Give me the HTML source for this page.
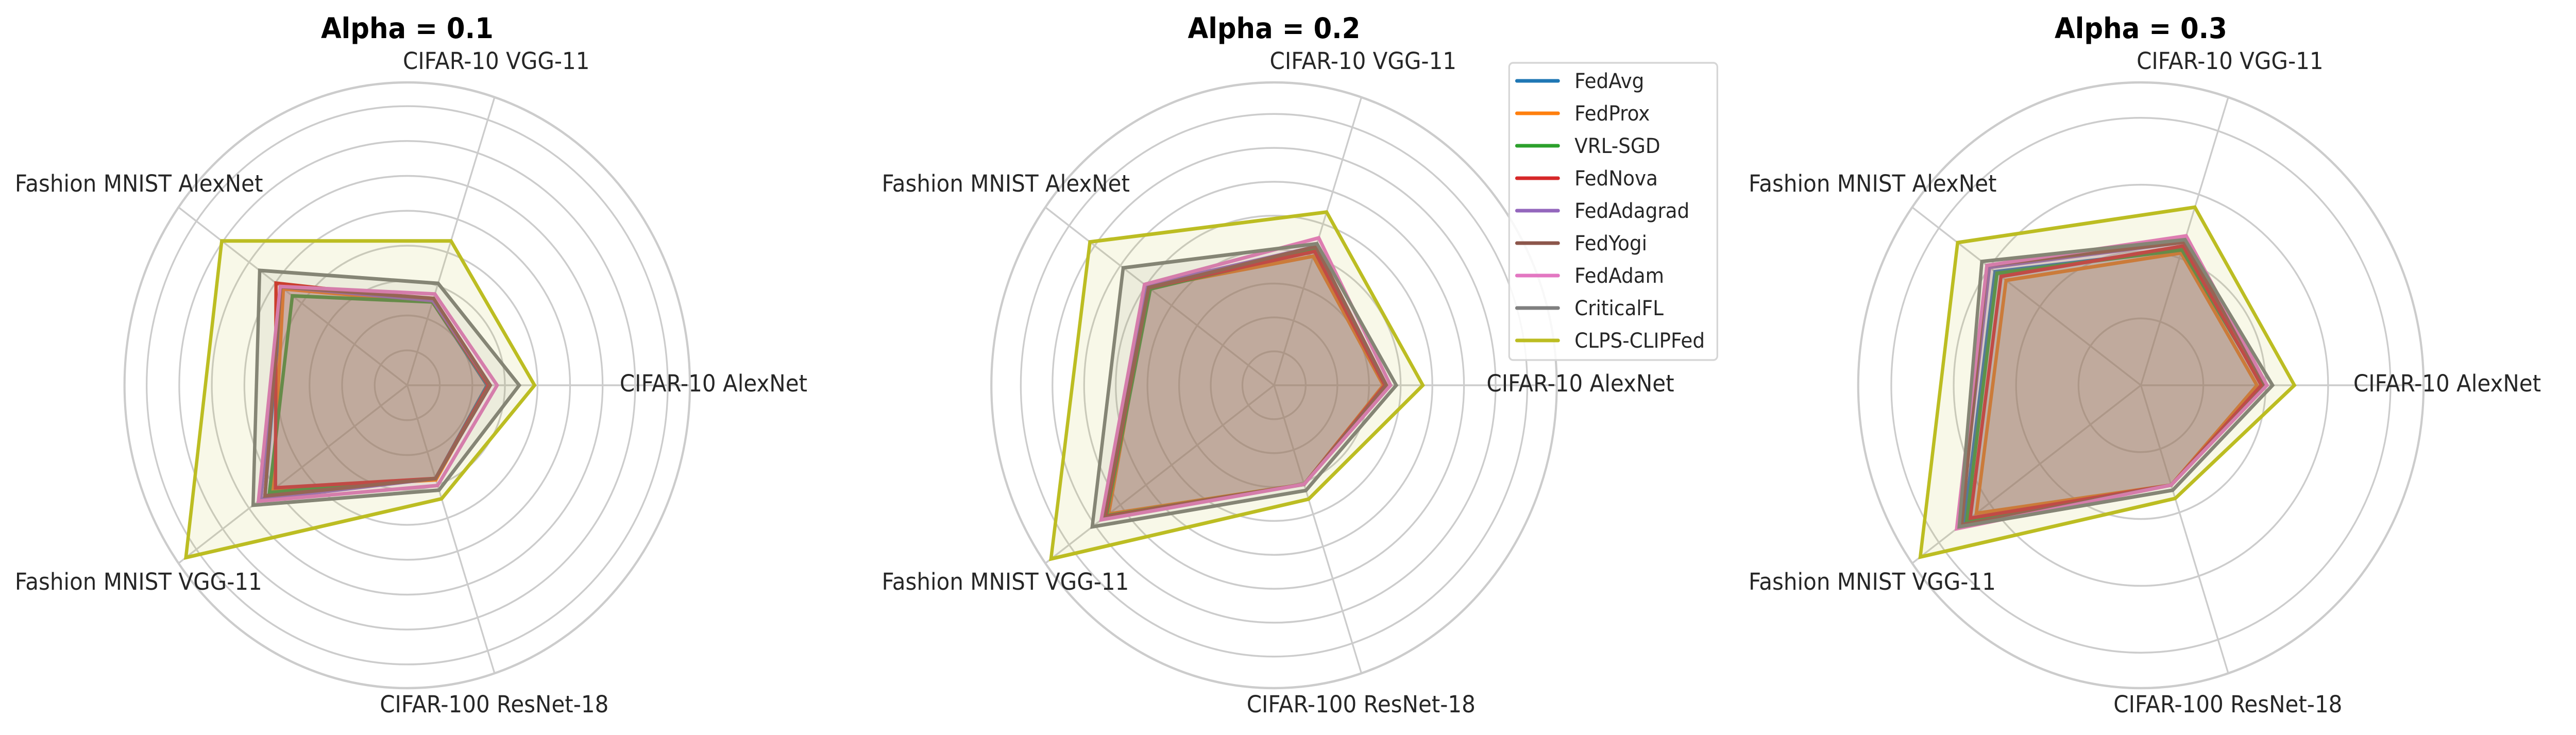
<!DOCTYPE html>
<html><head><meta charset="utf-8"><style>
html,body{margin:0;padding:0;background:#fff;width:100%;height:100%;overflow:hidden;}
svg{display:block;width:100vw;height:100vh;font-family:"DejaVu Sans","Liberation Sans",sans-serif;}
</style></head><body>
<svg id="chart" viewBox="0 0 5358 1427" preserveAspectRatio="none" xmlns="http://www.w3.org/2000/svg"></svg>
<script>
const categories = ["CIFAR-10 AlexNet","CIFAR-10 VGG-11","Fashion MNIST AlexNet","Fashion MNIST VGG-11","CIFAR-100 ResNet-18"];
const methods = ["FedAvg","FedProx","VRL-SGD","FedNova","FedAdagrad","FedYogi","FedAdam","CriticalFL","CLPS-CLIPFed"];
const colors = ["#1f77b4","#ff7f0e","#2ca02c","#d62728","#9467bd","#8c564b","#e377c2","#7f7f7f","#bcbd22"];
const panelTitles = ["Alpha = 0.1","Alpha = 0.2","Alpha = 0.3"];
const rMaxes = [8.68, 8.93, 4.53];
const ringCounts = [8, 8, 4];
// values per panel, per method, per category
const alpha01 = [
 [2.45,2.51,4.75,5.4,2.81],
 [2.5,2.51,4.7,5.1,2.85],
 [2.5,2.51,4.36,5.23,2.81],
 [2.5,2.55,4.98,5.0,2.81],
 [2.55,2.55,4.8,5.55,2.81],
 [2.55,2.62,4.8,5.4,2.81],
 [2.76,2.75,4.82,5.65,3.02],
 [3.44,3.07,5.6,5.85,3.16],
 [3.91,4.35,7.04,8.4,3.42]
];
const alpha02 = [
 [3.5,4.25,4.9,6.65,3.07],
 [3.45,4.0,4.9,6.46,3.07],
 [3.5,4.2,4.83,6.55,3.07],
 [3.5,4.15,4.9,6.6,3.07],
 [3.55,4.3,5.0,6.7,3.07],
 [3.55,4.3,4.9,6.65,3.07],
 [3.68,4.57,5.06,6.75,3.07],
 [3.86,4.39,5.89,7.1,3.26],
 [4.7,5.37,7.19,8.71,3.53]
];
const alpha03 = [
 [1.95,2.13,2.89,3.5,1.57],
 [1.86,2.08,2.67,3.26,1.57],
 [1.95,2.13,2.85,3.45,1.57],
 [1.93,2.19,2.77,3.38,1.57],
 [2.0,2.25,3.0,3.58,1.57],
 [2.0,2.25,3.05,3.55,1.57],
 [2.02,2.35,3.05,3.65,1.57],
 [2.11,2.29,3.15,3.6,1.65],
 [2.46,2.8,3.63,4.37,1.78]
];
const panelData = [alpha01, alpha02, alpha03];

const NS = "http://www.w3.org/2000/svg";
const svg = document.getElementById("chart");
const centersX = [847, 2650, 4453];
const CY = 748, R = 588;
const labelOffsets = [[442,760,"start"],[-9,134,"start"],[-816,372,"start"],[-816,1145,"start"],[-57,1383,"start"]];
function mk(tag, attrs, parent){const e=document.createElementNS(NS,tag);for(const k in attrs)e.setAttribute(k,attrs[k]);(parent||svg).appendChild(e);return e;}
function angle(i){return i*2*Math.PI/categories.length;}
function pt(cx, v, rmax, i){const r=v/rmax*R;return [cx+r*Math.cos(angle(i)), CY-r*Math.sin(angle(i))];}

panelData.forEach((data,p)=>{
  const cx = centersX[p], rmax = rMaxes[p];
  const g = mk("g",{});
  
  
  for(let k=1;k<=ringCounts[p];k++){
    const ring = mk("circle",{cx:cx,cy:CY,r:k/rmax*R,fill:"none",stroke:"#cccccc","stroke-width":3.5},g);
    
    
  }
  const outer = mk("circle",{cx:cx,cy:CY,r:R,fill:"none",stroke:"#cccccc","stroke-width":4.5},g);
  
  
  categories.forEach((c,i)=>{
    const e = pt(cx, rmax, rmax, i);
    const sp = mk("line",{x1:cx,y1:CY,x2:e[0],y2:e[1],stroke:"#cccccc","stroke-width":3.5},g);
    
    
  });
  data.forEach((vals,m)=>{
    const pts = vals.map((v,i)=>pt(cx,v,rmax,i).map(n=>n.toFixed(1)).join(",")).join(" ");
    const f = mk("polygon",{points:pts,fill:colors[m],"fill-opacity":0.1,stroke:"none"},g);
    
    
    const l = mk("polygon",{points:pts,fill:"none",stroke:colors[m],"stroke-width":7,"stroke-linejoin":"miter"},g);
    
    
  });
  categories.forEach((c,i)=>{
    const o = labelOffsets[i];
    const t = mk("text",{x:cx+o[0],y:o[1],"font-size":45,fill:"#262626","text-anchor":o[2]},g);
    t.textContent = c;
    
    
  });
  const tt = mk("text",{x:cx,y:74,"font-size":55,"font-weight":"bold",fill:"#000","text-anchor":"middle"},g);
  tt.textContent = panelTitles[p];
  
  
});

const lg = mk("g",{});


const box = mk("rect",{x:3139,y:122,width:433,height:577,rx:8,fill:"#fff","fill-opacity":0.85,stroke:"#d6d6d6","stroke-width":3.5},lg);


methods.forEach((m,i)=>{
  const y = 157 + i*63;
  const ln = mk("line",{x1:3155,y1:y,x2:3241,y2:y,stroke:colors[i],"stroke-width":7,"stroke-linecap":"round"},lg);
  
  
  const t = mk("text",{x:3275,y:y+14,"font-size":40,fill:"#262626"},lg);
  t.textContent = m;
  
  
});
</script>
</body></html>
